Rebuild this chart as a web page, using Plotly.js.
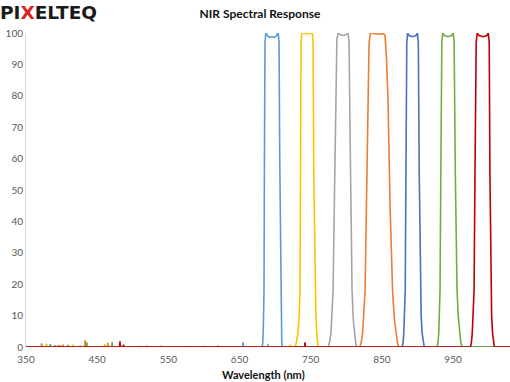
<!DOCTYPE html>
<html>
<head>
<meta charset="utf-8">
<script src="https://cdn.plot.ly/plotly-3.0.1.min.js"></script>
<style>html,body{margin:0;padding:0;background:#fff;}#chart{width:510px;height:382px;}</style>
</head>
<body>
<div id="chart"></div>
<script>
// ---- data (wavelength nm, response %) ----
const xTickVals = [350, 450, 550, 650, 750, 850, 950, 1050];
const yTickVals = [0, 10, 20, 30, 40, 50, 60, 70, 80, 90, 100];

const blue1X = [350, 390.5, 391, 391.5, 654.5, 655, 655.5, 682, 682.8, 683.5, 684.4, 685, 685.8, 687, 689, 692, 695.5, 699, 702, 704.3, 705.5, 706.5, 707.9, 708.6, 709.3, 710, 1050];
const blue1Y = [0, 0, 0.6, 0, 0, 1.5, 0, 0, 2, 7, 18, 60, 97, 100, 99.2, 98.6, 98.8, 98.6, 99.2, 100, 97, 60, 18, 7, 2, 0, 0];

const yellowX = [350, 378.5, 379, 379.5, 394.5, 395, 395.5, 415.5, 416, 416.5, 460.5, 461, 461.5, 720.5, 721, 721.5, 728, 730, 732, 733.8, 735, 735.6, 736.4, 737.5, 745, 752.2, 753.3, 754.3, 756.1, 757.3, 758.5, 759.5, 760.3, 1050];
const yellowY = [0, 0, 1.0, 0, 0, 0.7, 0, 0, 0.8, 0, 0, 0.9, 0, 0, 0.8, 0, 0, 1.5, 4.5, 10, 18, 55, 97, 100, 99.8, 100, 97, 55, 18, 10, 4.5, 1.5, 0, 0];

const grayX = [350, 425.5, 426, 426.5, 482, 482.5, 483, 579.5, 580, 580.5, 689.5, 690, 690.5, 774.5, 776.5, 778.5, 780, 781.4, 783.5, 785.5, 786.8, 788.5, 792, 795.5, 799, 802.5, 803.9, 805.2, 806.6, 808.1, 809.7, 811.5, 813.3, 815, 1050];
const grayY = [0, 0, 0.5, 0, 0, 1.0, 0, 0, 0.3, 0, 0, 1.0, 0, 0, 1.5, 4.5, 10, 18, 50, 85, 98, 100, 99.4, 99.2, 99.4, 100, 97, 70, 40, 18, 9, 4, 1.2, 0, 0];

const orangeX = [350, 371.5, 372, 372.5, 401.5, 402, 402.5, 432.5, 433, 433.5, 464.5, 465, 465.5, 539.5, 540, 540.5, 599.5, 600, 600.5, 819, 821, 823, 824.8, 826.4, 828.3, 830.5, 832, 834, 840, 846, 852, 854.4, 856.5, 858.6, 861.5, 865, 867.5, 870, 872, 874, 1050];
const orangeY = [0, 0, 1.2, 0, 0, 0.8, 0, 0, 2.2, 0, 0, 1.3, 0, 0, 0.4, 0, 0, 0.3, 0, 0, 1.5, 4.5, 10, 18, 45, 79, 97, 100, 99.8, 99.6, 99.8, 99.4, 92, 79, 45, 18, 9, 4, 1.2, 0, 0];

const blue2X = [350, 511.5, 512, 512.5, 878.5, 879.8, 880.8, 881.8, 882.8, 883.8, 885, 886.2, 888, 893, 898, 900, 901.2, 902.5, 904, 905.2, 906.5, 908, 909.5, 1050];
const blue2Y = [0, 0, 0.3, 0, 0, 1.5, 4.5, 10, 18, 55, 97, 100, 99.2, 98.8, 99.2, 100, 97, 55, 18, 10, 4.5, 1.5, 0, 0];

const greenX = [350, 383.5, 384, 384.5, 408.5, 409, 409.5, 435, 435.5, 436, 470.5, 471, 471.5, 927.5, 928.8, 929.9, 930.8, 931.7, 932.8, 934.2, 935.5, 938, 943, 948, 950.2, 951.5, 953.2, 955.6, 957.3, 959, 960.8, 962.6, 1050];
const greenY = [0, 0, 0.9, 0, 0, 0.7, 0, 0, 1.5, 0, 0, 1.6, 0, 0, 1.5, 4.5, 10, 18, 55, 97, 100, 99.2, 98.8, 99.2, 100, 97, 55, 18, 10, 4.5, 1.5, 0, 0];

const redX = [350, 397.5, 398, 398.5, 481.5, 482, 482.5, 486.5, 487, 487.5, 519.5, 520, 520.5, 619.5, 620, 620.5, 741.5, 742, 742.5, 974.5, 975.8, 977, 978.3, 979.5, 980.8, 982.5, 984, 986.5, 992, 997.5, 999.5, 1000.8, 1001.8, 1003, 1004.2, 1005.5, 1006.8, 1008, 1050];
const redY = [0, 0, 0.4, 0, 0, 1.8, 0, 0, 0.8, 0, 0, 0.3, 0, 0, 0.3, 0, 0, 1.5, 0, 0, 1.5, 4.5, 10, 18, 55, 97, 100, 99.2, 98.8, 99.2, 100, 97, 55, 18, 10, 4.5, 1.5, 0, 0];

const seriesList = [
  {x: blue1X, y: blue1Y, color: '#5B9BD5'},
  {x: yellowX, y: yellowY, color: '#FFC000'},
  {x: grayX, y: grayY, color: '#A5A5A5'},
  {x: orangeX, y: orangeY, color: '#ED7D31'},
  {x: blue2X, y: blue2Y, color: '#4472C4'},
  {x: greenX, y: greenY, color: '#70AD47'},
  {x: redX, y: redY, color: '#C00000'}
];

const traces = seriesList.map(s => ({
  type: 'scatter', mode: 'lines', x: s.x, y: s.y,
  line: {color: s.color, width: 1.6},
  hoverinfo: 'skip', showlegend: false, cliponaxis: false
}));

const tickFont = {family: 'Lato, "Liberation Sans", sans-serif', size: 10, color: '#595959'};

const layout = {
  width: 510, height: 382,
  margin: {l: 26, r: 0, t: 33, b: 35, pad: 0},
  paper_bgcolor: '#ffffff', plot_bgcolor: '#ffffff',
  title: {
    text: '<b>NIR Spectral Response</b>',
    font: {family: 'Lato, "Liberation Sans", sans-serif', size: 12, color: '#111111'},
    xref: 'container', x: 260 / 510, xanchor: 'center',
    yref: 'container', y: 1 - 14 / 382, yanchor: 'middle'
  },
  xaxis: {
    range: [350, 1030], tickvals: xTickVals, ticktext: xTickVals.map(String),
    showgrid: false, zeroline: false, showline: false, ticks: '',
    ticklabelstandoff: 5,
    tickfont: tickFont, fixedrange: true
  },
  yaxis: {
    range: [0, 100], tickvals: yTickVals,
    showgrid: false, zeroline: false, showline: true, linecolor: '#d9d9d9', linewidth: 1,
    ticks: '', tickfont: tickFont, fixedrange: true
  },
  annotations: [
    {
      text: '<b>Wavelength (nm)</b>', xref: 'paper', yref: 'paper',
      x: (263 - 26) / 484, y: 0, xanchor: 'center', yanchor: 'middle', yshift: -27,
      showarrow: false, font: {family: 'Lato, "Liberation Sans", sans-serif', size: 11, color: '#111111'}
    },
    {
      text: '<b>PI<span style="color:#d62728">X</span>ELTEQ</b>', xref: 'paper', yref: 'paper',
      x: 0, y: 1, xanchor: 'left', yanchor: 'middle', xshift: -28, yshift: 21,
      showarrow: false, font: {family: '"DejaVu Sans", sans-serif', size: 18.5, color: '#1a1a1a'}
    }
  ]
};

Plotly.newPlot('chart', traces, layout, {staticPlot: true, displayModeBar: false});
</script>
</body>
</html>
